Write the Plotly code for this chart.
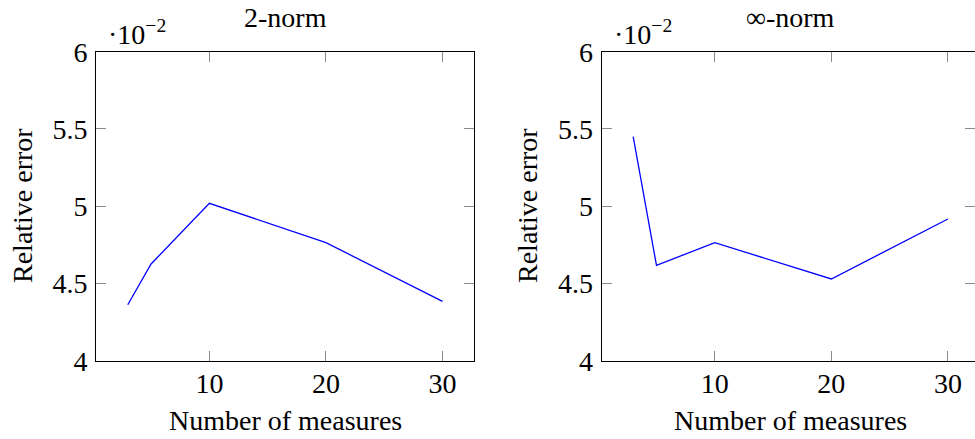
import plotly.graph_objects as go

# Data (relative error values)
measures = [3, 5, 10, 20, 30]
err_2norm = [0.04362, 0.04626, 0.05019, 0.04764, 0.04384]
err_infnorm = [0.05450, 0.04617, 0.04764, 0.04529, 0.04917]

y_tickvals = [0.04, 0.045, 0.05, 0.055, 0.06]
y_ticktext = ["4", "4.5", "5", "5.5", "6"]
x_tickvals = [10, 20, 30]
titles = ["2-norm", "∞-norm"]
x_title = "Number of measures"
y_title = "Relative error"
scale_label = "·10<sup>−2</sup>"

W, H = 975, 439
FONT = "'Liberation Serif', 'DejaVu Serif', serif"
FS = 28

fig = go.Figure()
fig.add_trace(go.Scatter(x=measures, y=err_2norm, mode="lines",
                         line=dict(color="#0000ff", width=1.3),
                         xaxis="x", yaxis="y", showlegend=False))
fig.add_trace(go.Scatter(x=measures, y=err_infnorm, mode="lines",
                         line=dict(color="#0000ff", width=1.3),
                         xaxis="x2", yaxis="y2", showlegend=False))

px_per_unit = 377.7 / 32.4
left1, left2 = 96.3, 601.7
top, bottom = 51.7, 360.7

common_x = dict(tickvals=x_tickvals, ticks="inside", ticklen=10, tickcolor="#8a8a8a",
                tickwidth=1.3, showline=True, linecolor="black", linewidth=1.3,
                mirror="allticks", showgrid=False, zeroline=False, automargin=False,
                tickfont=dict(family=FONT, size=FS, color="black"),
                ticklabelstandoff=-2)
common_y = dict(tickvals=y_tickvals, ticktext=y_ticktext, range=[0.04, 0.06],
                ticks="inside", ticklen=10, tickcolor="#8a8a8a", tickwidth=1.3,
                showline=True, linecolor="black", linewidth=1.3, mirror="allticks",
                showgrid=False, zeroline=False, automargin=False,
                tickfont=dict(family=FONT, size=FS, color="black"),
                ticklabelstandoff=2,
                domain=[1 - bottom / H, 1 - top / H])

fig.update_layout(
    width=W, height=H, margin=dict(l=0, r=0, t=0, b=0, pad=0, autoexpand=False),
    plot_bgcolor="white", paper_bgcolor="white",
    xaxis=dict(domain=[left1 / W, (left1 + 377.7) / W], range=[0.3, 32.7],
               anchor="y", **common_x),
    yaxis=dict(anchor="x", **common_y),
    xaxis2=dict(domain=[left2 / W, 1.0],
                range=[0.3, 0.3 + (W - left2) / px_per_unit],
                anchor="y2", **common_x),
    yaxis2=dict(anchor="x2", **common_y),
)

annos = []
for cx, yx, lx, title in [(285, 22, 106, titles[0]), (790.5, 527, 612, titles[1])]:
    annos.append(dict(text=title, x=cx / W, y=1 - 18 / H, xref="paper", yref="paper",
                      xanchor="center", yanchor="middle", showarrow=False,
                      font=dict(family=FONT, size=FS, color="black")))
    annos.append(dict(text=scale_label, x=lx / W, y=1 - 52 / H, xref="paper", yref="paper",
                      xanchor="left", yanchor="bottom", showarrow=False,
                      font=dict(family=FONT, size=FS, color="black")))
    annos.append(dict(text=x_title, x=(cx) / W, y=1 - 420 / H, xref="paper", yref="paper",
                      xanchor="center", yanchor="middle", showarrow=False,
                      font=dict(family=FONT, size=FS, color="black")))
    annos.append(dict(text=y_title, x=yx / W, y=1 - 206 / H, xref="paper", yref="paper",
                      xanchor="center", yanchor="middle", showarrow=False, textangle=-90,
                      font=dict(family=FONT, size=FS, color="black")))
fig.update_layout(annotations=annos)

fig.write_html("out.html")
